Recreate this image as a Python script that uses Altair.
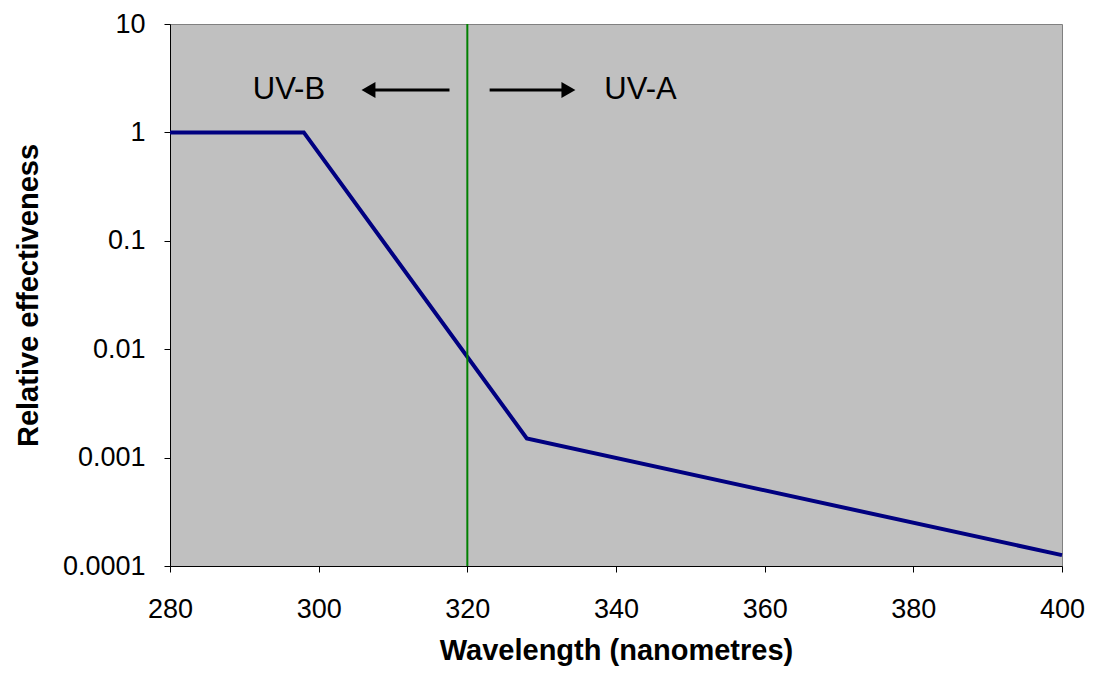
import altair as alt
import pandas as pd

# Curve vertices (wavelength nm, relative effectiveness)
wl = [280, 298, 328, 400]
eff = [1.0, 1.0, 0.0015, 0.000126]

x_ticks = [280, 300, 320, 340, 360, 380, 400]
y_ticks = [0.0001, 0.001, 0.01, 0.1, 1, 10]

boundary_wl = [320]

labels = ["UV-B", "UV-A"]
label_x = [296, 343.3]
label_y = [2.46, 2.46]

arrow_x1 = [317.6, 323.0]
arrow_x2 = [307.0, 333.0]
arrow_head_x = [306.7, 333.6]
arrow_shape = ["triangle-left", "triangle-right"]
arrow_y = [2.46, 2.46]

FONT = "Liberation Sans"

xs = alt.Scale(domain=[280, 400], nice=False, zero=False)
ys = alt.Scale(type="log", domain=[0.0001, 10], nice=False)

curve = pd.DataFrame({"wl": wl, "eff": eff})
bline = pd.DataFrame({"wl": boundary_wl})
txt = pd.DataFrame({"label": labels, "x": label_x, "y": label_y})
arr = pd.DataFrame({"x1": arrow_x1, "x2": arrow_x2, "hx": arrow_head_x,
                    "shape": arrow_shape, "y": arrow_y})

xaxis = alt.Axis(values=x_ticks, title="Wavelength (nanometres)",
                 labelPadding=24, titlePadding=14)
yaxis = alt.Axis(values=y_ticks, format="~g", title="Relative effectiveness",
                 labelPadding=19, titlePadding=19)

line = alt.Chart(curve).mark_line(color="#000080", strokeWidth=4).encode(
    x=alt.X("wl:Q", scale=xs, axis=xaxis),
    y=alt.Y("eff:Q", scale=ys, axis=yaxis),
)

vrule = alt.Chart(bline).mark_rule(color="#008000", strokeWidth=2).encode(
    x=alt.X("wl:Q", scale=xs, axis=xaxis)
)

shafts = alt.Chart(arr).mark_rule(color="black", strokeWidth=3).encode(
    x=alt.X("x1:Q", scale=xs, axis=xaxis), x2="x2:Q",
    y=alt.Y("y:Q", scale=ys, axis=yaxis)
)

heads = alt.Chart(arr).mark_point(filled=True, color="black", opacity=1, size=260).encode(
    x=alt.X("hx:Q", scale=xs, axis=xaxis), y=alt.Y("y:Q", scale=ys, axis=yaxis),
    shape=alt.Shape("shape:N", scale=None, legend=None),
)

texts = alt.Chart(txt).mark_text(font=FONT, fontSize=31, color="black").encode(
    x=alt.X("x:Q", scale=xs, axis=xaxis), y=alt.Y("y:Q", scale=ys, axis=yaxis),
    text="label:N"
)

chart = alt.layer(line, vrule, shafts, heads, texts).properties(
    width=892, height=542,
    autosize=alt.AutoSizeParams(type="none"),
    padding={"left": 162, "top": 16, "right": 23, "bottom": 100},
    background="white",
).configure_view(
    fill="#C0C0C0", stroke="#808080", strokeWidth=1
).configure_axis(
    grid=False, labelFont=FONT, labelFontSize=27, labelColor="black",
    titleFont=FONT, titleFontSize=29, titleFontWeight="bold",
    titleColor="black", tickColor="black", tickSize=6, tickWidth=1,
    domainColor="black", domainWidth=1, labelFlush=False, labelOverlap=False,
)

chart.save("out.html", embed_options={"renderer": "svg", "actions": False})
